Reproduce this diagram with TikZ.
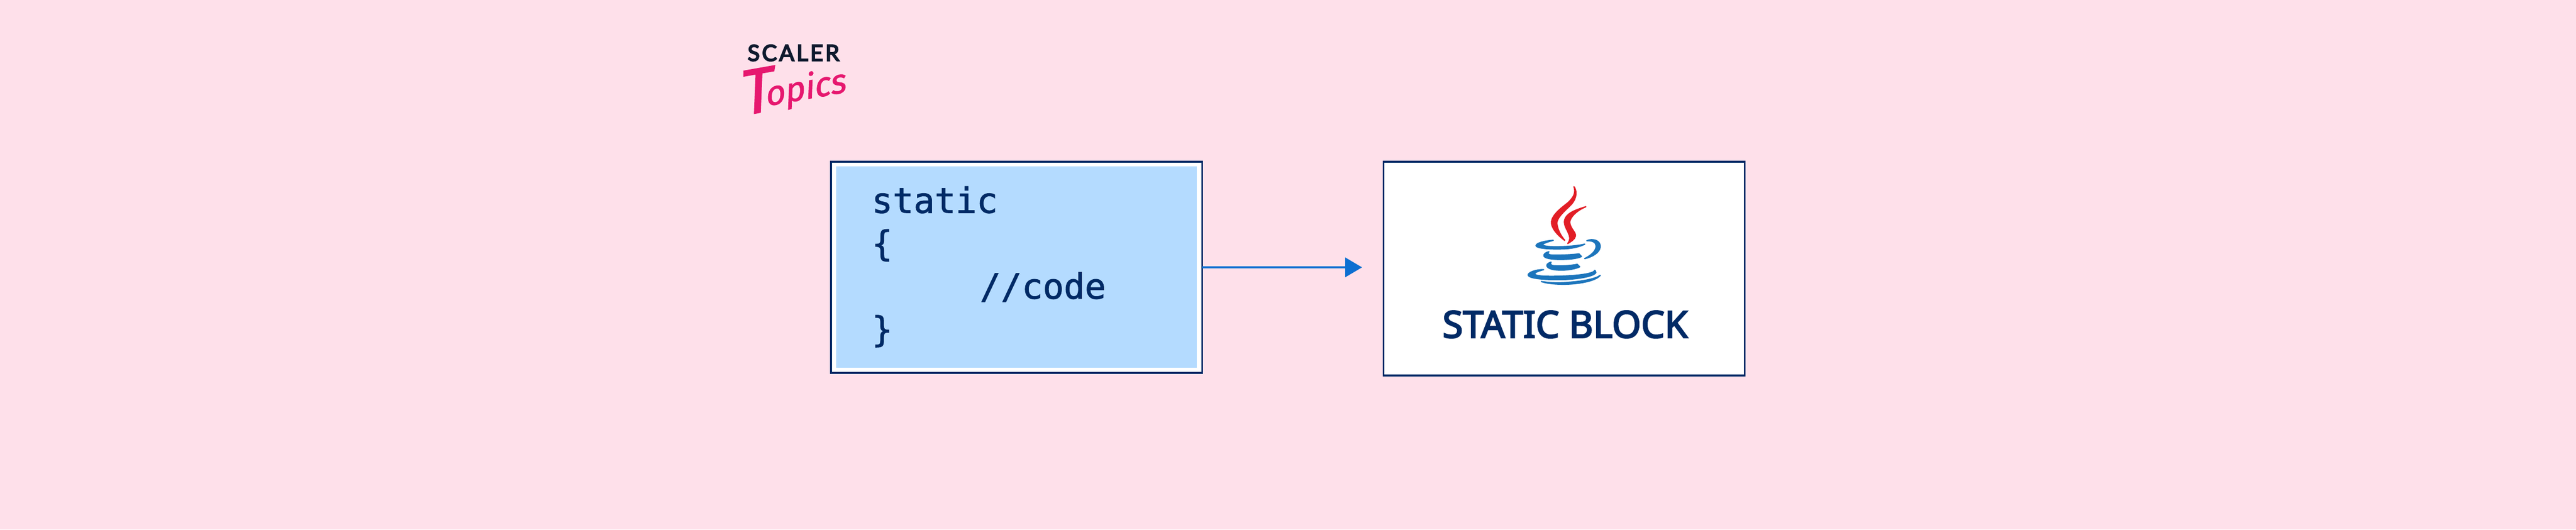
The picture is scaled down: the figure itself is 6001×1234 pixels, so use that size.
\documentclass[tikz,border=0pt]{standalone}
\usepackage{fontspec}
\usetikzlibrary{arrows.meta}
\newfontfamily\codefont[FakeBold=1.5]{DejaVu Sans Mono}
\newfontfamily\titlefont[FakeBold=3.5]{Noto Sans}
\newfontfamily\logofont[LetterSpace=10,FakeBold=5]{Lato}
\newfontfamily\topicsfont[FakeSlant=0.22,FakeBold=1.5]{Fira Sans}
\definecolor{pagepink}{HTML}{FEE0EA}
\definecolor{navyblue}{HTML}{012A66}
\definecolor{codeblue}{HTML}{B4DBFF}
\definecolor{arrowblue}{HTML}{0D6FD1}
\definecolor{cupblue}{HTML}{1C75BC}
\definecolor{flamered}{HTML}{E21E26}
\definecolor{logoink}{HTML}{0F1A2E}
\definecolor{logopink}{HTML}{E6186F}
\tikzset{
	outerbox/.style={draw=navyblue, line width=0.04cm, fill=white, inner sep=0pt, outer sep=0pt},
	codeline/.style={anchor=base west, inner sep=0pt, text=navyblue, font=\codefont\fontsize{23.1}{24}\selectfont},
	cuppart/.style={fill=cupblue, draw=cupblue, line width=0.03cm, line join=round},
	flamepart/.style={fill=flamered, draw=flamered, line width=0.03cm, line join=round},
}

\begin{document}
\begin{tikzpicture}[x=0.01cm, y=-0.01cm]
			%%%%% START %%%%%
			
			\fill[pagepink] (0, 0) rectangle (6001, 1234);
			\useasboundingbox (0, 0) rectangle (6001, 1234);
			
			\node[anchor=base west, inner sep=0pt, text=logoink, font=\logofont\fontsize{14.8}{16}\selectfont] (scaler) at (1741, 142) {SCALER};
			\node[anchor=base west, inner sep=0pt, rotate=10, text=logopink, font=\topicsfont\fontsize{22.5}{24}\selectfont] (topics) at (1726, 270) {{\fontsize{42}{42}\selectfont T}\kern-0.2em\raisebox{0.15em}{opics}};
			
			\node[outerbox, minimum width=8.64cm, minimum height=4.92cm] (codebox) at (2368, 623) {};
			\node[fill=codeblue, inner sep=0pt, minimum width=8.40cm, minimum height=4.69cm] (codefill) at (2368, 622.5) {};
			
			\node[codeline] (line1) at (2030, 496) {static};
			\node[codeline] (line2) at (2030, 596) {\{};
			\node[codeline] (line3) at (2282, 696) {//code};
			\node[codeline] (line4) at (2030, 796) {\}};
			
			\node[outerbox, minimum width=8.41cm, minimum height=4.98cm] (blockbox) at (3643.5, 626) {};
			\node[anchor=base, inner sep=0pt, text=navyblue, font=\titlefont\fontsize{24.7}{28}\selectfont] (blocktitle) at (3646, 787) {STATIC BLOCK};
			
			\coordinate (arrowend) at (3173, 623);
			\draw[arrowblue, line width=0.04cm, -{Triangle[length=0.39cm, width=0.45cm]}] (codebox.east) -- (arrowend);
			
			\begin{scope}[shift={(3480, 410)}, scale=1/3]
				\path[flamepart] (560,75) .. controls (578,100) and (585,150) .. (540,200) .. controls (500,240) and (440,290) .. (440,330) .. controls (445,380) and (470,420) .. (495,450) .. controls (440,410) and (400,360) .. (403,320) .. controls (410,270) and (470,225) .. (515,190) .. controls (560,150) and (575,115) .. (560,75) -- cycle;
				\path[flamepart] (643,215) .. controls (580,240) and (530,290) .. (530,325) .. controls (535,370) and (575,395) .. (570,420) .. controls (565,445) and (535,460) .. (517,472) .. controls (540,440) and (530,420) .. (515,385) .. controls (490,340) and (485,310) .. (510,280) .. controls (540,245) and (600,230) .. (643,215) -- cycle;
				
				\path[cuppart] (415,450) .. controls (350,455) and (295,470) .. (295,488) .. controls (300,505) and (380,512) .. (470,510) .. controls (540,510) and (600,495) .. (635,477) .. controls (580,490) and (500,495) .. (430,495) .. controls (380,495) and (340,490) .. (340,480) .. controls (345,470) and (380,460) .. (415,450) -- cycle;
				\path[cuppart] (650,453) .. controls (690,435) and (745,450) .. (743,495) .. controls (740,535) and (690,565) .. (635,578) .. controls (680,555) and (715,525) .. (715,490) .. controls (715,465) and (690,450) .. (650,453) -- cycle;
				\path[cuppart] (385,530) .. controls (360,535) and (347,548) .. (350,560) .. controls (360,580) and (430,585) .. (490,583) .. controls (540,582) and (590,575) .. (612,563) -- (595,545) .. controls (540,552) and (460,555) .. (400,553) .. controls (380,550) and (370,540) .. (385,530) -- cycle;
				\path[cuppart] (400,603) .. controls (375,610) and (367,622) .. (372,632) .. controls (385,655) and (440,660) .. (490,658) .. controls (540,655) and (580,645) .. (600,635) -- (583,618) .. controls (530,628) and (470,632) .. (420,628) .. controls (395,625) and (390,612) .. (400,603) -- cycle;
				\path[cuppart] (348,655) .. controls (290,655) and (240,675) .. (240,693) .. controls (245,715) and (340,725) .. (450,725) .. controls (560,725) and (700,705) .. (713,675) .. controls (712,668) and (707,660) .. (705,660) .. controls (705,675) and (640,695) .. (480,700) .. controls (370,705) and (285,700) .. (285,685) .. controls (285,675) and (310,665) .. (348,655) -- cycle;
				\path[cuppart] (332,738) .. controls (380,755) and (470,760) .. (540,755) .. controls (640,748) and (720,725) .. (743,695) .. controls (720,715) and (640,735) .. (530,743) .. controls (460,750) and (390,748) .. (332,738) -- cycle;
			\end{scope}
			
			%%%%% END %%%%%
\end{tikzpicture}
\end{document}
